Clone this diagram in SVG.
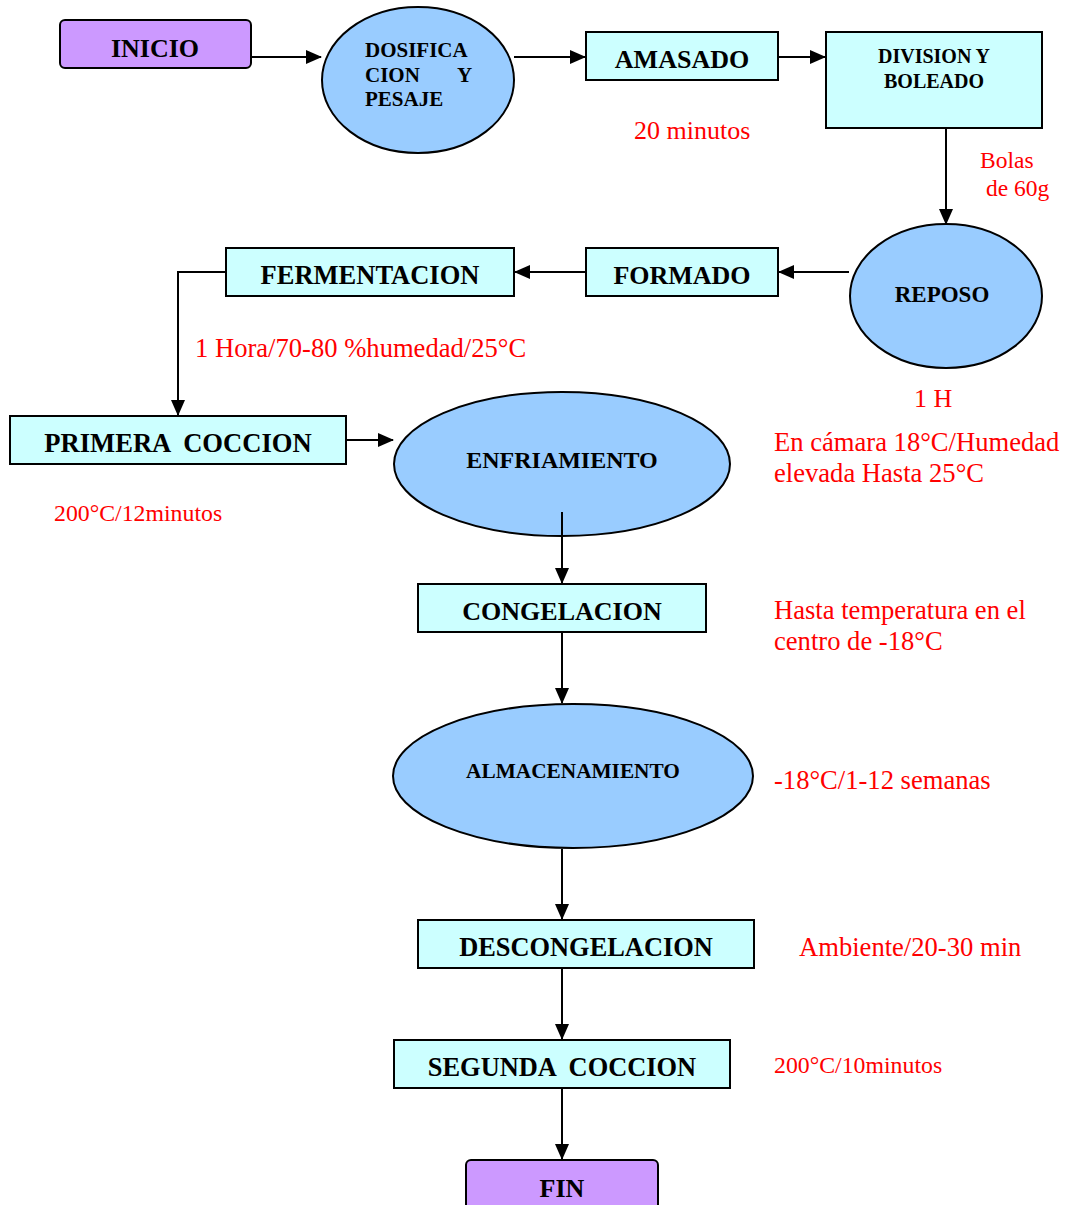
<svg xmlns="http://www.w3.org/2000/svg" width="1076" height="1205" viewBox="0 0 1076 1205">
<style>
.box{fill:#CCFFFF;stroke:#000;stroke-width:2}
.term{fill:#CC99FF;stroke:#000;stroke-width:2}
.ell{fill:#99CCFF;stroke:#000;stroke-width:2}
.lbl{font-family:"Liberation Serif","Times New Roman",serif;font-weight:bold;fill:#000;text-anchor:middle;white-space:pre}
.note{font-family:"Liberation Serif","Times New Roman",serif;fill:#FF0000;white-space:pre}
.conn{fill:none;stroke:#000;stroke-width:2}
</style>
<defs>
<marker id="arr" markerUnits="userSpaceOnUse" markerWidth="16" markerHeight="14" refX="15" refY="7" orient="auto">
<path d="M0,0 L16,7 L0,14 z" fill="#000"/>
</marker>
</defs>
<rect width="1076" height="1205" fill="#fff"/>

<g id="inicio">
<rect class="term" x="60" y="20" width="191" height="48" rx="5"/>
<text class="lbl" x="155" y="57" font-size="26">INICIO</text>
</g>

<g id="dosificacion">
<ellipse class="ell" cx="418" cy="80" rx="96" ry="73"/>
<text class="lbl" font-size="21" style="text-anchor:start"><tspan x="365" y="57">DOSIFICA</tspan><tspan x="365" y="82">CION</tspan><tspan x="457" y="82">Y</tspan><tspan x="365" y="106">PESAJE</tspan></text>
</g>

<g id="amasado">
<rect class="box" x="586" y="32" width="192" height="48"/>
<text class="lbl" x="682" y="68" font-size="26">AMASADO</text>
</g>
<text class="note" x="634" y="139" font-size="26">20 minutos</text>

<g id="division">
<rect class="box" x="826" y="32" width="216" height="96"/>
<text class="lbl" font-size="20"><tspan x="934" y="63">DIVISION Y</tspan><tspan x="934" y="88">BOLEADO</tspan></text>
</g>
<text class="note" font-size="23.5"><tspan x="980" y="168">Bolas</tspan><tspan x="980" y="196"> de 60g</tspan></text>

<g id="reposo">
<ellipse class="ell" cx="946" cy="296" rx="96" ry="72"/>
<text class="lbl" x="942" y="302" font-size="23">REPOSO</text>
</g>
<text class="note" x="914" y="407" font-size="26">1 H</text>

<g id="formado">
<rect class="box" x="586" y="248" width="192" height="48"/>
<text class="lbl" x="682" y="284" font-size="26">FORMADO</text>
</g>

<g id="fermentacion">
<rect class="box" x="226" y="248" width="288" height="48"/>
<text class="lbl" x="370" y="284" font-size="26.5">FERMENTACION</text>
</g>
<text class="note" x="195" y="357" font-size="26.6">1 Hora/70-80 %humedad/25°C</text>

<g id="primera-coccion">
<rect class="box" x="10" y="416" width="336" height="48"/>
<text class="lbl" x="178" y="452" font-size="26.6">PRIMERA  COCCION</text>
</g>
<text class="note" x="54" y="521" font-size="23.8">200°C/12minutos</text>

<g id="enfriamiento">
<ellipse class="ell" cx="562" cy="464" rx="168" ry="72"/>
<text class="lbl" x="562" y="468" font-size="24">ENFRIAMIENTO</text>
</g>
<text class="note" font-size="26.6"><tspan x="774" y="451">En cámara 18°C/Humedad</tspan><tspan x="774" y="482">elevada Hasta 25°C</tspan></text>

<g id="congelacion">
<rect class="box" x="418" y="584" width="288" height="48"/>
<text class="lbl" x="562" y="620" font-size="26">CONGELACION</text>
</g>
<text class="note" font-size="26.6"><tspan x="774" y="619">Hasta temperatura en el</tspan><tspan x="774" y="650">centro de -18°C</tspan></text>

<g id="almacenamiento">
<ellipse class="ell" cx="573" cy="776" rx="180" ry="72"/>
<text class="lbl" x="573" y="778" font-size="21.3">ALMACENAMIENTO</text>
</g>
<text class="note" x="774" y="789" font-size="26.6">-18°C/1-12 semanas</text>

<g id="descongelacion">
<rect class="box" x="418" y="920" width="336" height="48"/>
<text class="lbl" x="586" y="956" font-size="26.4">DESCONGELACION</text>
</g>
<text class="note" x="799" y="956" font-size="26.6">Ambiente/20-30 min</text>

<g id="segunda-coccion">
<rect class="box" x="394" y="1040" width="336" height="48"/>
<text class="lbl" x="562" y="1076" font-size="26.4">SEGUNDA  COCCION</text>
</g>
<text class="note" x="774" y="1073" font-size="23.8">200°C/10minutos</text>

<g id="fin">
<rect class="term" x="466" y="1160" width="192" height="56" rx="5"/>
<text class="lbl" x="562" y="1197" font-size="26">FIN</text>
</g>

<g id="connectors">
<line class="conn" x1="252" y1="57" x2="321" y2="57" marker-end="url(#arr)"/>
<line class="conn" x1="514" y1="57" x2="585" y2="57" marker-end="url(#arr)"/>
<line class="conn" x1="778" y1="57" x2="825" y2="57" marker-end="url(#arr)"/>
<line class="conn" x1="946" y1="129" x2="946" y2="224" marker-end="url(#arr)"/>
<line class="conn" x1="849" y1="272" x2="779" y2="272" marker-end="url(#arr)"/>
<line class="conn" x1="585" y1="272" x2="515" y2="272" marker-end="url(#arr)"/>
<polyline class="conn" points="225,272 178,272 178,415" marker-end="url(#arr)"/>
<line class="conn" x1="347" y1="440" x2="393" y2="440" marker-end="url(#arr)"/>
<line class="conn" x1="562" y1="512" x2="562" y2="583" marker-end="url(#arr)"/>
<line class="conn" x1="562" y1="633" x2="562" y2="703" marker-end="url(#arr)"/>
<line class="conn" x1="562" y1="849" x2="562" y2="919" marker-end="url(#arr)"/>
<line class="conn" x1="562" y1="969" x2="562" y2="1039" marker-end="url(#arr)"/>
<line class="conn" x1="562" y1="1089" x2="562" y2="1159" marker-end="url(#arr)"/>
</g>
</svg>
